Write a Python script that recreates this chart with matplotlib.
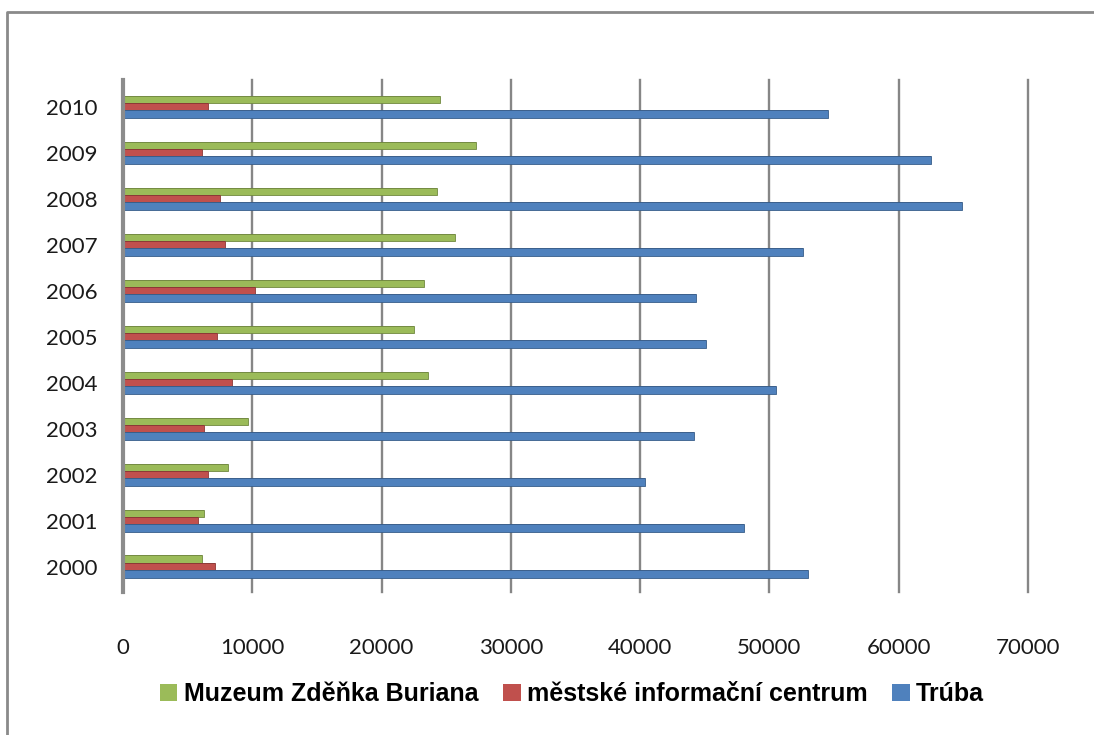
import numpy as np
import matplotlib
matplotlib.use("Agg")
import matplotlib.pyplot as plt
from matplotlib.lines import Line2D
from matplotlib.patches import Patch

# data
years = ['2000', '2001', '2002', '2003', '2004', '2005', '2006', '2007', '2008', '2009', '2010']
muzeum = [6100, 6300, 8100, 9700, 23600, 22500, 23300, 25700, 24300, 27300, 24500]
infocentrum = [7100, 5800, 6600, 6300, 8400, 7300, 10200, 7900, 7500, 6100, 6600]
truba = [53000, 48000, 40400, 44200, 50500, 45100, 44300, 52600, 64900, 62500, 54500]

series = [
    ('Muzeum Zděňka Buriana', muzeum, '#9BBB59', '#71893F'),
    ('městské informační centrum', infocentrum, '#C0504D', '#8C3836'),
    ('Trúba', truba, '#4F81BD', '#385D8A'),
]

fig = plt.figure(figsize=(10.94, 7.35), dpi=100)
W, H = 1094, 735
ax = fig.add_axes([123 / W, 1 - 592 / H, (1028 - 123) / W, (592 - 80) / H])

pos = np.arange(len(years))
h = 0.16
offsets = [h, 0, -h]

for (name, vals, col, dark), off in zip(series, offsets):
    ax.barh(pos + off, vals, height=h, color=col, edgecolor=dark, linewidth=0.6, zorder=3)
    # darker top strip to mimic the 3D depth face
    ax.barh(pos + off + h / 2 - 0.022, vals, height=0.022, align='edge', color=dark,
            linewidth=0, zorder=4, alpha=0.7)

ax.set_xlim(0, 70000)
ax.set_ylim(-0.554, 10.58)
ax.set_xticks(np.arange(0, 70001, 10000))
ax.set_yticks(pos)
ax.set_yticklabels(years)

ax.xaxis.grid(True, color='#868686', linewidth=1.7, zorder=1)
for gl in ax.get_xgridlines():
    gl.set_clip_on(False)
ax.set_axisbelow(True)
for s in ['top', 'right', 'bottom']:
    ax.spines[s].set_visible(False)
ax.spines['left'].set_color('#8C8C8C')
ax.spines['left'].set_linewidth(3.0)
ax.spines['left'].set_zorder(5)

ax.tick_params(axis='both', length=0, colors='#1A1A1A')
ax.tick_params(axis='x', pad=33)
ax.tick_params(axis='y', pad=18)
for lab in ax.get_xticklabels() + ax.get_yticklabels():
    lab.set_fontfamily(['Lato', 'DejaVu Sans'])
    lab.set_fontsize(16)

# outer chart border (only left and top are visible in the picture)
fig.add_artist(Line2D([7 / W, 7 / W, 1.0], [0.0, 1 - 12 / H, 1 - 12 / H],
                      transform=fig.transFigure, color='#8A8A8A', linewidth=2))

handles = [Patch(facecolor=c, edgecolor='none') for _, _, c, _ in series]
labels = [s[0] for s in series]
fig.legend(handles, labels, loc='center', bbox_to_anchor=(572 / W, 1 - 694 / H),
           ncol=3, frameon=False, handlelength=0.7, handleheight=0.7,
           handletextpad=0.25, columnspacing=1.0,
           prop={'family': ['Liberation Sans', 'DejaVu Sans'], 'weight': 'bold', 'size': 18})

fig.savefig('out.png', dpi=100)
